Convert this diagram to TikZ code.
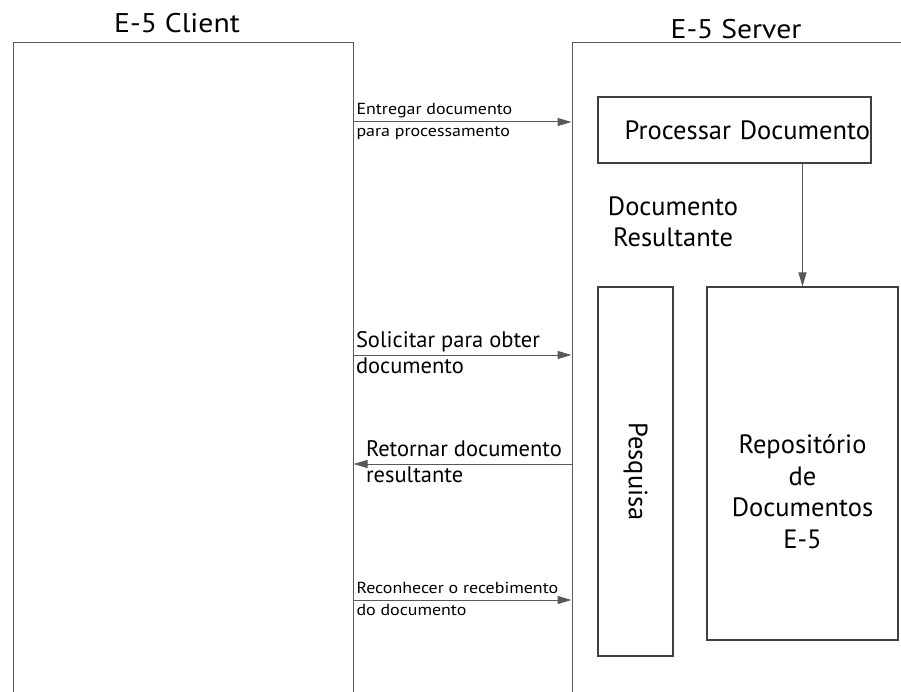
\documentclass[tikz,border=0pt]{standalone}
\usepackage{fontspec}
\setmainfont{PT Sans}
\newfontfamily\titlefont[FakeStretch=1.1]{PT Sans}
\newfontfamily\labelfont[FakeStretch=1.12]{PT Sans}
\usetikzlibrary{arrows.meta,positioning,calc}

\begin{document}
\begin{tikzpicture}[x=1pt,y=-1pt]
  \tikzstyle{side} = [draw=black!65,line width=1pt,inner sep=0pt,anchor=north west]
  \tikzstyle{block} = [draw=black!75,line width=1.1pt,inner sep=0pt]
  \tikzstyle{msg} = [draw=black!65,line width=1pt,-{Triangle[length=14pt,width=8pt]}]
  \tikzstyle{title} = [font=\titlefont\fontsize{27}{32}\selectfont]
  \tikzstyle{big} = [font=\fontsize{26.5}{31.5}\selectfont]
  \tikzstyle{mid} = [font=\fontsize{22.5}{26}\selectfont,inner sep=2pt,text height=16pt,text depth=5pt]
  \tikzstyle{small} = [font=\labelfont\fontsize{16}{19}\selectfont,inner sep=2.5pt,text height=12pt,text depth=4pt]

  \clip (0,0) rectangle (901,692);

  \node[side,minimum width=340pt,minimum height=700pt] (client) at (12.5,42) {};
  \node[side,minimum width=360pt,minimum height=700pt] (server) at (571.5,42) {};

  \node[title] (client_title) at (177,23) {E-5 Client};
  \node[title] (server_title) at (736,29) {E-5 Server};

  \node[block,big,minimum height=66pt,text width=271pt,inner xsep=1pt,align=right] (process) at (734.5,130) {Processar Documento};
  \node[big,align=center] (result) at (673,222) {Documento\\Resultante};

  \node[block,big,rotate=-90,minimum width=369pt,minimum height=75pt] (search) at (635.5,471.5) {Pesquisa};
  \node[block,minimum width=191pt,minimum height=353pt] (repo) at (802.5,463.5) {};
  \node[big,align=center] (repo_text) at ([yshift=-28pt]repo.center) {Reposit\'orio\\de\\Documentos\\E-5};

  \draw [msg] (process.south -| repo.north) -- (repo.north);

  \coordinate (m1) at (0,122);
  \coordinate (m2) at (0,355);
  \coordinate (m3) at (0,464);
  \coordinate (m4) at (0,600);

  \draw [msg] (client.east |- m1) -- (server.west |- m1)
    node[small,pos=0,anchor=south west] {Entregar documento}
    node[small,pos=0,anchor=north west] {para processamento};
  \draw [msg] (client.east |- m2) -- (server.west |- m2)
    node[mid,pos=0,anchor=south west] {Solicitar para obter}
    node[mid,pos=0,anchor=north west] {documento};
  \draw [msg] (server.west |- m3) -- (client.east |- m3)
    node[mid,pos=1,anchor=south west,xshift=10pt] {Retornar documento}
    node[mid,pos=1,anchor=north west,xshift=10pt] {resultante};
  \draw [msg] (client.east |- m4) -- (server.west |- m4)
    node[small,pos=0,anchor=south west] {Reconhecer o recebimento}
    node[small,pos=0,anchor=north west] {do documento};
\end{tikzpicture}
\end{document}
